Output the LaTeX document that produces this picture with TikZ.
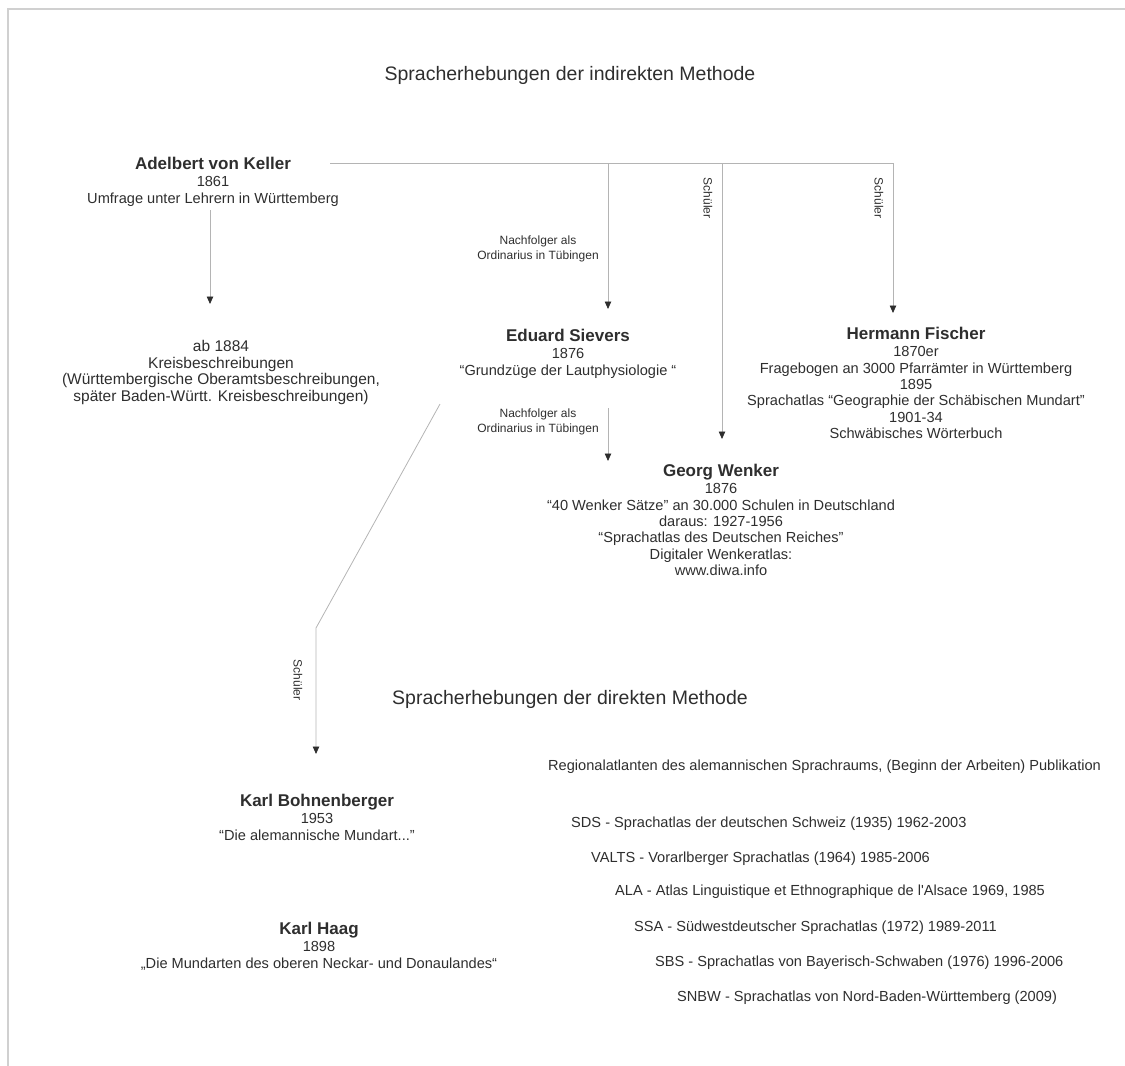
\documentclass[tikz,border=0pt]{standalone}
\usepackage{fontspec}
\setmainfont[Ligatures=TeXOff]{Liberation Sans}
\usetikzlibrary{arrows.meta}
\definecolor{txt}{HTML}{2E2E2E}
\definecolor{ln}{HTML}{B4B4B4}
\definecolor{framec}{HTML}{D0D0D0}
\newcommand\nm[1]{{\fontsize{17}{19}\selectfont\bfseries #1}\\[0.8pt]}
\begin{document}
\begin{tikzpicture}[x=1pt,y=-1pt,
  body/.style={inner sep=0pt, anchor=north, align=center, text=txt, font=\fontsize{14.6}{16.4}\selectfont},
  bodylarge/.style={body, font=\fontsize{15.5}{16.4}\selectfont},
  smalllabel/.style={inner sep=0pt, align=center, text=txt, font=\fontsize{12}{14.6}\selectfont},
  titletext/.style={inner sep=0pt, anchor=base, text=txt, font=\fontsize{19.5}{23}\selectfont},
  listitem/.style={inner sep=0pt, anchor=base west, text=txt, font=\fontsize{14.6}{16.6}\selectfont},
  conn/.style={draw=ln, line width=0.8pt},
  arr/.style={conn, -{Triangle[length=7.5pt,width=6.5pt,color=txt,fill=txt]}},
  framel/.style={draw=framec, line width=1.2pt}
]
\useasboundingbox (0,0) rectangle (1125,1066);
% frame
\coordinate (fa) at (1125,9);
\coordinate (fb) at (8,9);
\coordinate (fc) at (8,1066);
\draw[framel] (fa) -- (fb) -- (fc);

% titles
\node[titletext] (t1) at (570,80) {Spracherhebungen der indirekten Methode};
\node[titletext] (t2) at (570,704) {Spracherhebungen der direkten Methode};

% persons
\node[body] (keller) at (213,157) {\nm{Adelbert von Keller}1861\\Umfrage unter Lehrern in Württemberg};
\node[bodylarge] (kreis) at (221,340.5) {ab 1884\\Kreisbeschreibungen\\(Württembergische Oberamtsbeschreibungen,\\später Baden-Württ. Kreisbeschreibungen)};
\node[body] (sievers) at (568,329) {\nm{Eduard Sievers}1876\\“Grundzüge der Lautphysiologie “};
\node[body] (fischer) at (916,327) {\nm{Hermann Fischer}1870er\\Fragebogen an 3000 Pfarrämter in Württemberg\\1895\\Sprachatlas “Geographie der Schäbischen Mundart”\\1901-34\\Schwäbisches Wörterbuch};
\node[body] (wenker) at (721,464) {\nm{Georg Wenker}1876\\“40 Wenker Sätze” an 30.000 Schulen in Deutschland\\daraus: 1927-1956\\“Sprachatlas des Deutschen Reiches”\\Digitaler Wenkeratlas:\\www.diwa.info};
\node[body] (bohn) at (317,794) {\nm{Karl Bohnenberger}1953\\“Die alemannische Mundart...”};
\node[body] (haag) at (319,922) {\nm{Karl Haag}1898\\„Die Mundarten des oberen Neckar- und Donaulandes“};

% list
\node[listitem] (reg) at (548,770) {Regionalatlanten des alemannischen Sprachraums, (Beginn der Arbeiten) Publikation};
\node[listitem] (sds) at (571,827) {SDS - Sprachatlas der deutschen Schweiz (1935) 1962-2003};
\node[listitem] (valts) at (591,862) {VALTS - Vorarlberger Sprachatlas (1964) 1985-2006};
\node[listitem] (ala) at (615,895) {ALA - Atlas Linguistique et Ethnographique de l'Alsace 1969, 1985};
\node[listitem] (ssa) at (634,931) {SSA - Südwestdeutscher Sprachatlas (1972) 1989-2011};
\node[listitem] (sbs) at (655,966) {SBS - Sprachatlas von Bayerisch-Schwaben (1976) 1996-2006};
\node[listitem] (snbw) at (677,1001) {SNBW - Sprachatlas von Nord-Baden-Württemberg (2009)};

% connector points
\coordinate (hstart) at (330,163);
\coordinate (jS) at (608,163);
\coordinate (jW) at (722,163);
\coordinate (jF) at (893,163);
\coordinate (sEnd) at (608,309);
\coordinate (wEnd) at (722,439);
\coordinate (fEnd) at (893,313);
\coordinate (kTop) at (210,210);
\coordinate (kEnd) at (210,304);
\coordinate (svTop) at (608,408);
\coordinate (svEnd) at (608,461);
\coordinate (dTop) at (440,404);
\coordinate (dBend) at (316,628);
\coordinate (bEnd) at (316,754);

\draw[conn] (hstart) -- (jF);
\draw[arr] (jS) -- (sEnd);
\draw[arr] (jW) -- (wEnd);
\draw[arr] (jF) -- (fEnd);
\draw[arr] (kTop) -- (kEnd);
\draw[arr] (svTop) -- (svEnd);
\draw[arr] (dTop) -- (dBend) -- (bEnd);

% labels
\node[smalllabel] (l1) at (538,249) {Nachfolger als\\Ordinarius in Tübingen};
\node[smalllabel] (l2) at (538,422) {Nachfolger als\\Ordinarius in Tübingen};
\node[smalllabel, rotate=-90] (s1) at (708,198) {Schüler};
\node[smalllabel, rotate=-90] (s2) at (879,198) {Schüler};
\node[smalllabel, rotate=-90] (s3) at (298,680) {Schüler};
\end{tikzpicture}
\end{document}
